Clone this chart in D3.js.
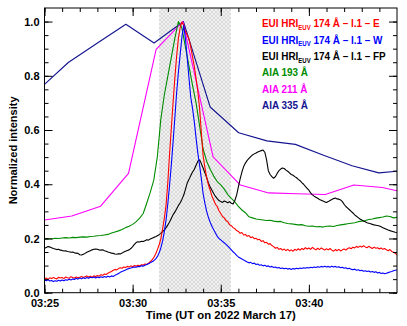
<!DOCTYPE html>
<html><head><meta charset="utf-8">
<script src="https://cdn.jsdelivr.net/npm/d3@7"></script>
<style>
body{margin:0;background:#fff;}
text{font-family:"Liberation Sans",Arial,Helvetica,sans-serif;font-weight:bold;}
</style></head>
<body><svg id="c" width="407" height="326"></svg>
<script>
// ---------------- DATA ----------------
const startTime = "2022-03-17T03:25:00Z";
const endTime = "2022-03-17T03:45:00Z";
const shadeStart = "2022-03-17T03:31:30Z";
const shadeEnd = "2022-03-17T03:35:35Z";
const xTickLabels = ["03:25", "03:30", "03:35", "03:40"];
const yTicks = [0.0, 0.2, 0.4, 0.6, 0.8, 1.0];

// EUI HRI_EUV 174 (cadence 6 s, starting 03:25:00)
const euiStepSec = 6;
const euiE = [
0.050,0.054,0.049,0.055,0.052,0.056,0.053,0.051,0.057,0.054,
0.056,0.052,0.058,0.055,0.053,0.059,0.056,0.054,0.058,0.055,
0.057,0.060,0.056,0.059,0.062,0.058,0.061,0.057,0.062,0.060,
0.063,0.061,0.066,0.064,0.069,0.067,0.072,0.075,0.078,0.083,
0.086,0.084,0.089,0.092,0.090,0.095,0.093,0.097,0.095,0.099,
0.096,0.100,0.098,0.101,0.099,0.103,0.102,0.106,0.104,0.109,
0.114,0.121,0.130,0.142,0.158,0.176,0.198,0.235,0.275,0.325,
0.410,0.515,0.610,0.705,0.795,0.875,0.940,0.978,0.998,0.985,
0.962,0.950,0.935,0.905,0.870,0.835,0.790,0.742,0.680,0.590,
0.505,0.462,0.425,0.398,0.378,0.356,0.342,0.326,0.318,0.302,
0.292,0.281,0.276,0.266,0.262,0.251,0.247,0.240,0.236,0.229,
0.226,0.219,0.222,0.213,0.215,0.208,0.211,0.203,0.206,0.199,
0.201,0.195,0.197,0.189,0.192,0.184,0.186,0.179,0.181,0.174,
0.170,0.164,0.167,0.160,0.163,0.157,0.161,0.155,0.160,0.154,
0.158,0.153,0.160,0.156,0.162,0.157,0.163,0.159,0.166,0.161,
0.165,0.160,0.167,0.162,0.158,0.164,0.159,0.165,0.161,0.157,
0.162,0.158,0.163,0.157,0.153,0.159,0.155,0.160,0.154,0.158,
0.161,0.157,0.163,0.166,0.162,0.168,0.165,0.171,0.167,0.172,
0.168,0.173,0.169,0.166,0.171,0.167,0.163,0.168,0.164,0.166,
0.161,0.165,0.160,0.163,0.158,0.155,0.159,0.152,0.149,0.145,
0.140];
const euiW = [
0.047,0.044,0.048,0.043,0.045,0.041,0.044,0.042,0.046,0.043,
0.047,0.044,0.048,0.046,0.050,0.047,0.051,0.049,0.053,0.050,
0.054,0.051,0.055,0.052,0.056,0.053,0.057,0.055,0.058,0.054,
0.058,0.055,0.059,0.056,0.060,0.057,0.061,0.058,0.062,0.060,
0.064,0.067,0.071,0.075,0.078,0.081,0.084,0.087,0.089,0.091,
0.093,0.095,0.094,0.097,0.096,0.099,0.098,0.101,0.104,0.107,
0.110,0.114,0.118,0.124,0.133,0.146,0.165,0.190,0.225,0.270,
0.330,0.400,0.475,0.560,0.650,0.740,0.815,0.880,0.945,0.985,
0.935,0.865,0.790,0.720,0.680,0.630,0.570,0.515,0.470,0.420,
0.365,0.330,0.300,0.278,0.260,0.245,0.232,0.220,0.208,0.200,
0.195,0.189,0.184,0.178,0.172,0.165,0.158,0.151,0.145,0.138,
0.132,0.128,0.124,0.121,0.117,0.113,0.110,0.112,0.107,0.109,
0.104,0.106,0.101,0.103,0.099,0.101,0.097,0.099,0.095,0.097,
0.093,0.095,0.091,0.093,0.089,0.091,0.088,0.090,0.087,0.089,
0.086,0.089,0.087,0.090,0.088,0.091,0.089,0.092,0.090,0.093,
0.091,0.094,0.092,0.095,0.093,0.096,0.094,0.097,0.095,0.098,
0.095,0.097,0.094,0.098,0.095,0.097,0.094,0.096,0.092,0.094,
0.090,0.092,0.088,0.090,0.086,0.085,0.087,0.083,0.085,0.081,
0.083,0.079,0.081,0.078,0.080,0.076,0.078,0.075,0.077,0.073,
0.075,0.071,0.073,0.070,0.072,0.074,0.076,0.078,0.081,0.083,
0.084];
const euiFP = [
0.164,0.167,0.170,0.169,0.166,0.163,0.161,0.159,0.160,0.157,
0.156,0.154,0.155,0.152,0.151,0.149,0.150,0.147,0.146,0.145,
0.140,0.139,0.142,0.145,0.149,0.152,0.155,0.158,0.160,0.161,
0.160,0.158,0.157,0.158,0.155,0.153,0.150,0.148,0.146,0.145,
0.143,0.142,0.144,0.143,0.146,0.150,0.153,0.156,0.158,0.163,
0.170,0.178,0.185,0.188,0.187,0.190,0.189,0.192,0.195,0.194,
0.198,0.201,0.204,0.206,0.210,0.214,0.219,0.225,0.232,0.240,
0.250,0.262,0.275,0.288,0.298,0.310,0.322,0.332,0.345,0.360,
0.382,0.405,0.418,0.432,0.445,0.455,0.470,0.485,0.490,0.476,
0.460,0.442,0.425,0.405,0.390,0.378,0.366,0.355,0.347,0.340,
0.336,0.333,0.338,0.335,0.332,0.336,0.330,0.327,0.340,0.360,
0.390,0.420,0.445,0.465,0.478,0.488,0.495,0.502,0.508,0.512,
0.515,0.519,0.522,0.524,0.526,0.518,0.490,0.450,0.436,0.428,
0.422,0.428,0.440,0.450,0.456,0.460,0.458,0.452,0.448,0.442,
0.436,0.433,0.428,0.424,0.418,0.413,0.406,0.400,0.392,0.385,
0.378,0.368,0.361,0.356,0.352,0.348,0.344,0.341,0.338,0.335,
0.333,0.336,0.340,0.344,0.347,0.349,0.346,0.345,0.342,0.336,
0.326,0.318,0.312,0.306,0.300,0.294,0.287,0.282,0.277,0.272,
0.268,0.264,0.262,0.258,0.256,0.254,0.252,0.250,0.249,0.248,
0.246,0.243,0.240,0.237,0.234,0.231,0.229,0.227,0.225,0.223,
0.222];

// AIA 193 (cadence 12 s)
const aia193StepSec = 12;
const aia193 = [
0.199,0.200,0.198,0.201,0.200,0.202,0.203,0.202,0.204,0.203,
0.205,0.206,0.205,0.207,0.208,0.210,0.211,0.213,0.215,0.220,
0.224,0.228,0.233,0.240,0.245,0.252,0.262,0.275,0.292,0.330,
0.370,0.415,0.500,0.640,0.730,0.800,0.870,0.940,1.000,0.975,
0.905,0.835,0.765,0.700,0.615,0.530,0.485,0.455,0.430,0.410,
0.398,0.382,0.362,0.348,0.335,0.318,0.305,0.295,0.280,0.276,
0.272,0.270,0.268,0.266,0.267,0.264,0.262,0.263,0.258,0.255,
0.254,0.252,0.250,0.251,0.247,0.245,0.246,0.243,0.244,0.242,
0.245,0.246,0.244,0.248,0.250,0.252,0.254,0.256,0.258,0.262,
0.264,0.266,0.270,0.272,0.275,0.277,0.279,0.283,0.281,0.276,
0.278];

// AIA 211
const aia211Times = ["03:25:00","03:26:33","03:28:11","03:29:46","03:31:20","03:32:51","03:34:34","03:36:07","03:37:43","03:39:20","03:40:56","03:42:33","03:44:10","03:45:00"];
const aia211 = [0.268,0.283,0.319,0.440,0.897,1.000,0.501,0.397,0.368,0.365,0.362,0.397,0.388,0.376];

// AIA 335
const aia335Times = ["03:25:00","03:26:21","03:27:59","03:29:37","03:31:13","03:32:53","03:34:24","03:36:01","03:37:37","03:39:14","03:40:50","03:42:27","03:43:58","03:45:00"];
const aia335 = [0.768,0.849,0.920,0.990,0.921,1.000,0.685,0.590,0.560,0.547,0.507,0.468,0.442,0.448];

const legendMain = ["EUI HRI","EUI HRI","EUI HRI","AIA 193 Å","AIA 211 Å","AIA 335 Å"];
const legendSub = ["EUV","EUV","EUV","","",""];
const legendTail = [" 174 Å – I.1 – E"," 174 Å – I.1 – W"," 174 Å – I.1 – FP","","",""];
const seriesColors = ["#ff0000","#0000ff","#000000","#008c00","#ff00ff","#141490"];

// ---------------- CHART ----------------
const svg = d3.select("#c");
const L = 44.5, R = 397, T = 8, B = 292.7;
const t0 = new Date(startTime);
const x = d3.scaleUtc().domain([t0, new Date(endTime)]).range([L, R]);
const y = d3.scaleLinear().domain([0, 1.05]).range([B, T]);

const stepped = (arr, step) => arr.map((v, i) => ({t: new Date(+t0 + i * step * 1000), v}));
const timed = (times, arr) => arr.map((v, i) => ({t: new Date("2022-03-17T" + times[i] + "Z"), v}));

// hatch pattern
const defs = svg.append("defs");
const pat = defs.append("pattern").attr("id", "hatch").attr("patternUnits", "userSpaceOnUse")
  .attr("width", 4).attr("height", 4);
pat.append("rect").attr("width", 4).attr("height", 4).attr("fill", "#f1f1f1");
pat.append("path").attr("d", "M0,0L4,4M4,0L0,4").attr("stroke", "#cdcdcd").attr("stroke-width", 0.6);
defs.append("clipPath").attr("id", "clip").append("rect").attr("x", L).attr("y", T).attr("width", R - L).attr("height", B - T);

svg.append("rect").attr("x", x(new Date(shadeStart))).attr("y", T)
  .attr("width", x(new Date(shadeEnd)) - x(new Date(shadeStart))).attr("height", B - T)
  .attr("fill", "url(#hatch)");

const line = d3.line().x(d => x(d.t)).y(d => y(d.v));
const seriesData = [
  stepped(euiE, euiStepSec), stepped(euiW, euiStepSec), stepped(euiFP, euiStepSec),
  stepped(aia193, aia193StepSec), timed(aia211Times, aia211), timed(aia335Times, aia335)
];
const drawOrder = [5, 4, 3, 2, 0, 1];
const g = svg.append("g").attr("clip-path", "url(#clip)");
drawOrder.forEach(i => {
  g.append("path").datum(seriesData[i]).attr("d", line).attr("fill", "none")
    .attr("stroke", seriesColors[i]).attr("stroke-width", 1.1).attr("stroke-linejoin", "round");
});

// axes
const majorX = xTickLabels.map(s => new Date("2022-03-17T" + s + ":00Z"));
const minorX = d3.utcMinute.range(t0, new Date(endTime));
const fmt = d3.utcFormat("%H:%M");
const minorY = d3.range(0, 21).map(i => i * 0.05);

function styleAxis(sel) {
  sel.select(".domain").remove();
  sel.selectAll("line").attr("stroke", "#000").attr("stroke-width", 1);
  sel.selectAll("text").attr("font-size", 11).attr("fill", "#000");
}
svg.append("g").attr("transform", `translate(0,${B})`).call(d3.axisBottom(x).tickValues(minorX).tickSize(-4).tickFormat("")).call(styleAxis);
svg.append("g").attr("transform", `translate(0,${B})`).call(d3.axisBottom(x).tickValues(majorX).tickSize(-8).tickPadding(7).tickFormat(fmt)).call(styleAxis);
svg.append("g").attr("transform", `translate(0,${T})`).call(d3.axisTop(x).tickValues(minorX).tickSize(-4).tickFormat("")).call(styleAxis);
svg.append("g").attr("transform", `translate(0,${T})`).call(d3.axisTop(x).tickValues(majorX).tickSize(-8).tickFormat("")).call(styleAxis);
svg.append("g").attr("transform", `translate(${L},0)`).call(d3.axisLeft(y).tickValues(minorY).tickSize(-4).tickFormat("")).call(styleAxis);
svg.append("g").attr("transform", `translate(${L},0)`).call(d3.axisLeft(y).tickValues(yTicks).tickSize(-8).tickPadding(5).tickFormat(d3.format(".1f"))).call(styleAxis);
svg.append("g").attr("transform", `translate(${R},0)`).call(d3.axisRight(y).tickValues(minorY).tickSize(-4).tickFormat("")).call(styleAxis);
svg.append("g").attr("transform", `translate(${R},0)`).call(d3.axisRight(y).tickValues(yTicks).tickSize(-8).tickFormat("")).call(styleAxis);

svg.append("rect").attr("x", L).attr("y", T).attr("width", R - L).attr("height", B - T)
  .attr("fill", "none").attr("stroke", "#000").attr("stroke-width", 1);

const xt = svg.append("text").attr("x", (L + R) / 2).attr("y", 318.5).attr("text-anchor", "middle")
  .attr("font-size", 11.5).text("Time (UT on 2022 March 17)");
xt.attr("textLength", 150).attr("lengthAdjust", "spacingAndGlyphs");
const yt = svg.append("text").attr("transform", `translate(16.5,${(T + B) / 2}) rotate(-90)`).attr("text-anchor", "middle")
  .attr("font-size", 11.5).text("Normalized intensity");
yt.attr("textLength", 108).attr("lengthAdjust", "spacingAndGlyphs");

// legend
const lg = svg.append("g");
legendMain.forEach((m, i) => {
  const t = lg.append("text").attr("x", 0).attr("y", 27.5 + i * 16.3).attr("font-size", 11.6).attr("fill", seriesColors[i]);
  t.append("tspan").text(m);
  if (legendSub[i]) {
    t.append("tspan").attr("font-size", 7).attr("dy", 2.5).text(legendSub[i]);
    t.append("tspan").attr("dy", -2.5).text(legendTail[i]);
  }
});
const w3 = lg.selectAll("text").nodes()[2].getBBox().width;
lg.attr("transform", `translate(262,0) scale(${124 / w3},1)`);
</script></body></html>
